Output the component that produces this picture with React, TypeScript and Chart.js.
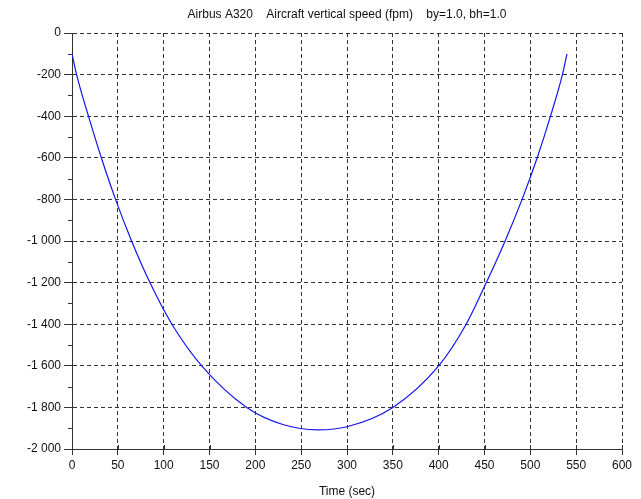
import { useEffect, useRef } from 'react';
import { Chart, registerables } from 'chart.js';

Chart.register(...registerables);

const chartTitle = 'Airbus A320    Aircraft vertical speed (fpm)    by=1.0, bh=1.0';
const xAxisTitle = 'Time (sec)';

const timeSec = [0, 5, 18, 32, 47.5, 65, 85, 109, 141.5, 190.6, 230, 268, 300, 350, 400, 430, 452, 472.5, 491, 507.5, 522, 535, 540];
const verticalSpeedFpm = [-100, -200, -400, -600, -800, -1000, -1200, -1400, -1600, -1800, -1882, -1908, -1893, -1800, -1600, -1400, -1200, -1000, -800, -600, -400, -200, -100];

const xMin = 0;
const xMax = 600;
const xStep = 50;
const yMin = -2000;
const yMax = 0;
const yStep = 200;
const yMinorTicks = [-100, -300, -500, -700, -900, -1100, -1300, -1500, -1700, -1900];
const xTickValues = [0, 50, 100, 150, 200, 250, 300, 350, 400, 450, 500, 550, 600];

const FONT = '"Liberation Sans", Arial, Helvetica, sans-serif';
const AXIS_COLOR = '#333333';

function formatThousands(v: number): string {
  const sign = v < 0 ? '-' : '';
  const a = Math.abs(Math.round(v));
  if (a >= 1000) {
    const th = Math.floor(a / 1000);
    const rest = String(a % 1000).padStart(3, '0');
    return `${sign}${th} ${rest}`;
  }
  return `${sign}${a}`;
}

const extraTicks = {
  id: 'extraTicks',
  afterDraw(chart: any) {
    const { ctx, chartArea, scales } = chart;
    const ys = scales.y;
    const xs = scales.x;
    ctx.save();
    ctx.strokeStyle = AXIS_COLOR;
    ctx.lineWidth = 1;
    ctx.setLineDash([]);
    ctx.beginPath();
    for (const v of yMinorTicks) {
      const py = Math.round(ys.getPixelForValue(v)) + 0.5;
      ctx.moveTo(chartArea.left - 4, py);
      ctx.lineTo(chartArea.left, py);
    }
    for (const v of xTickValues) {
      const px = Math.round(xs.getPixelForValue(v)) + 0.5;
      ctx.moveTo(px, chartArea.bottom - 4);
      ctx.lineTo(px, chartArea.bottom);
    }
    ctx.stroke();
    ctx.restore();
  },
};

export default function App() {
  const canvasRef = useRef<HTMLCanvasElement | null>(null);

  useEffect(() => {
    const canvas = canvasRef.current;
    if (!canvas) return;
    const data = timeSec.map((t, i) => ({ x: t, y: verticalSpeedFpm[i] }));
    const chart = new Chart(canvas, {
      type: 'line',
      data: {
        datasets: [
          {
            label: 'Vertical speed',
            data,
            borderColor: '#1515f0',
            borderWidth: 1.2,
            pointRadius: 0,
            fill: false,
            cubicInterpolationMode: 'monotone',
          },
        ],
      },
      options: {
        responsive: false,
        animation: false,
        devicePixelRatio: 1,
        layout: { padding: { left: 0, right: 19, top: 0, bottom: 0 } },
        plugins: {
          legend: { display: false },
          tooltip: { enabled: false },
          title: {
            display: true,
            text: chartTitle,
            fullSize: false,
            color: '#111111',
            font: { family: FONT, size: 12, weight: 'normal' },
            padding: { top: 7.5, bottom: 11.1 },
          },
        },
        scales: {
          x: {
            type: 'linear',
            min: xMin,
            max: xMax,
            afterFit(scale: any) {
              scale.height = 50;
            },
            afterBuildTicks(scale: any) {
              scale.ticks = xTickValues.map((v) => ({ value: v }));
            },
            ticks: {
              stepSize: xStep,
              color: '#111111',
              font: { family: FONT, size: 12 },
              padding: 3,
              maxRotation: 0,
              autoSkip: false,
            },
            grid: {
              color: AXIS_COLOR,
              lineWidth: 1,
              tickLength: 6,
              tickColor: AXIS_COLOR,
              tickBorderDash: [],
            },
            border: { display: true, color: AXIS_COLOR, width: 1, dash: [4, 3] },
            title: {
              display: true,
              text: xAxisTitle,
              color: '#111111',
              font: { family: FONT, size: 12, weight: 'normal' },
              padding: { top: 0, bottom: 0 },
            },
          },
          y: {
            type: 'linear',
            min: yMin,
            max: yMax,
            afterFit(scale: any) {
              scale.width = 72;
            },
            ticks: {
              stepSize: yStep,
              color: '#111111',
              font: { family: FONT, size: 12 },
              padding: 3,
              callback: (v: any) => formatThousands(Number(v)),
            },
            grid: {
              color: AXIS_COLOR,
              lineWidth: 1,
              tickLength: 8,
              tickColor: AXIS_COLOR,
              tickBorderDash: [],
            },
            border: { display: true, color: AXIS_COLOR, width: 1, dash: [4, 3] },
          },
        },
      },
      plugins: [extraTicks],
    } as any);
    return () => chart.destroy();
  }, []);

  return (
    <div style={{ position: 'fixed', left: 0, top: 0, width: 641, height: 499, background: '#ffffff' }}>
      <canvas ref={canvasRef} width={641} height={499} style={{ display: 'block' }} />
    </div>
  );
}
